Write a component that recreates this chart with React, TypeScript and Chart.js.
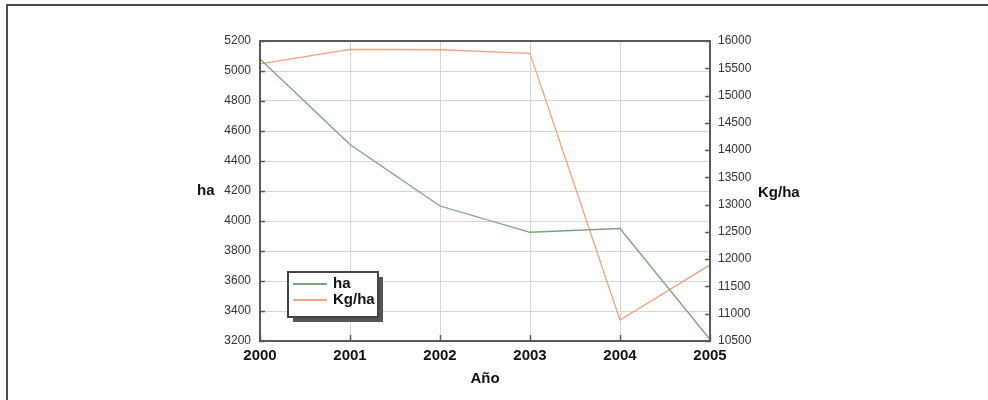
import React, { useEffect, useRef } from 'react';
import { Chart, registerables } from 'chart.js';

Chart.register(...registerables);

const years = ['2000', '2001', '2002', '2003', '2004', '2005'];
const haValues = [5080, 4510, 4100, 3925, 3950, 3210];
const kgHaValues = [15580, 15845, 15840, 15775, 10885, 11895];
const seriesLabels = ['ha', 'Kg/ha'];
const seriesColors = ['#7ba67b', '#f2a27e'];
const leftAxisTitle = 'ha';
const rightAxisTitle = 'Kg/ha';
const xAxisTitle = 'Año';
const leftMin = 3200, leftMax = 5200, leftStep = 200;
const rightMin = 10500, rightMax = 16000, rightStep = 500;

const FONT = 'Arial, "Liberation Sans", sans-serif';

const decorPlugin = {
  id: 'decor',
  beforeDraw(chart: any) {
    const ctx = chart.ctx;
    ctx.save();
    ctx.fillStyle = '#ffffff';
    ctx.fillRect(0, 0, chart.width, chart.height);
    ctx.fillStyle = '#4a4a4a';
    ctx.fillRect(6, 4, chart.width - 6, 2);
    ctx.fillRect(6, 4, 2, chart.height - 4);
    ctx.restore();
  },
  afterDraw(chart: any) {
    const ctx = chart.ctx;
    const a = chart.chartArea;
    const xs = chart.scales.x;
    const yl = chart.scales.y;
    const yr = chart.scales.y1;
    ctx.save();
    // frame
    ctx.strokeStyle = '#5a5a5a';
    ctx.lineWidth = 2;
    ctx.strokeRect(a.left, a.top, a.right - a.left, a.bottom - a.top);
    // inward tick marks
    ctx.lineWidth = 1.5;
    yl.ticks.forEach((t: any) => {
      const y = Math.round(yl.getPixelForValue(t.value)) + 0.5;
      ctx.beginPath(); ctx.moveTo(a.left, y); ctx.lineTo(a.left + 5, y); ctx.stroke();
    });
    yr.ticks.forEach((t: any) => {
      const y = Math.round(yr.getPixelForValue(t.value)) + 0.5;
      ctx.beginPath(); ctx.moveTo(a.right, y); ctx.lineTo(a.right - 5, y); ctx.stroke();
    });
    xs.ticks.forEach((_t: any, i: number) => {
      const x = Math.round(xs.getPixelForTick(i)) + 0.5;
      ctx.beginPath(); ctx.moveTo(x, a.bottom); ctx.lineTo(x, a.bottom - 6); ctx.stroke();
    });
    // axis titles
    ctx.fillStyle = '#111';
    ctx.font = 'bold 15px ' + FONT;
    ctx.textBaseline = 'middle';
    ctx.textAlign = 'left';
    ctx.fillText(leftAxisTitle, 197, 191);
    ctx.fillText(rightAxisTitle, 758, 193);
    ctx.textAlign = 'center';
    ctx.fillText(xAxisTitle, (a.left + a.right) / 2, 379);
    // legend
    const bx = 288, by = 272, bw = 90, bh = 45;
    ctx.fillStyle = '#555';
    ctx.fillRect(bx + 5, by + 5, bw, bh);
    ctx.fillStyle = '#fff';
    ctx.fillRect(bx, by, bw, bh);
    ctx.strokeStyle = '#444';
    ctx.lineWidth = 2;
    ctx.strokeRect(bx, by, bw, bh);
    chart.data.datasets.forEach((ds: any, i: number) => {
      const ly = by + 12 + i * 16;
      ctx.strokeStyle = ds.borderColor;
      ctx.lineWidth = 2;
      ctx.beginPath(); ctx.moveTo(bx + 5, ly); ctx.lineTo(bx + 39, ly); ctx.stroke();
      ctx.fillStyle = '#111';
      ctx.textAlign = 'left';
      ctx.font = 'bold 15px ' + FONT;
      ctx.fillText(ds.label, bx + 45, ly);
    });
    ctx.restore();
  },
};

export default function App() {
  const canvasRef = useRef<HTMLCanvasElement | null>(null);

  useEffect(() => {
    document.body.style.margin = '0';
    const canvas = canvasRef.current;
    if (!canvas) return;
    const plain = (v: any) => String(v);
    const chart = new Chart(canvas, {
      type: 'line',
      data: {
        labels: years,
        datasets: [
          {
            label: seriesLabels[0],
            data: haValues,
            borderColor: seriesColors[0],
            backgroundColor: seriesColors[0],
            borderWidth: 1.3,
            pointRadius: 0,
            tension: 0,
            yAxisID: 'y',
          },
          {
            label: seriesLabels[1],
            data: kgHaValues,
            borderColor: seriesColors[1],
            backgroundColor: seriesColors[1],
            borderWidth: 1.3,
            pointRadius: 0,
            tension: 0,
            yAxisID: 'y1',
          },
        ],
      },
      options: {
        responsive: false,
        animation: false,
        devicePixelRatio: 1,
        layout: { padding: { top: 41, left: 0, right: 0, bottom: 0 } },
        plugins: {
          legend: { display: false },
          tooltip: { enabled: false },
          title: { display: false },
        },
        scales: {
          x: {
            type: 'category',
            offset: false,
            grid: { color: '#d6d6d6', drawTicks: false, lineWidth: 1 },
            border: { display: false },
            ticks: {
              color: '#111',
              font: { family: FONT, size: 15, weight: 'bold' },
              padding: 6,
              maxRotation: 0,
              autoSkip: false,
            },
            afterFit: (s: any) => { s.height = 59; },
          },
          y: {
            type: 'linear',
            position: 'left',
            min: leftMin,
            max: leftMax,
            grid: { color: '#d6d6d6', drawTicks: false, lineWidth: 1 },
            border: { display: false },
            ticks: {
              stepSize: leftStep,
              color: '#333',
              font: { family: FONT, size: 12 },
              padding: 9,
              callback: plain,
            },
            afterFit: (s: any) => { s.width = 260; },
          },
          y1: {
            type: 'linear',
            position: 'right',
            min: rightMin,
            max: rightMax,
            grid: { drawOnChartArea: false, drawTicks: false },
            border: { display: false },
            ticks: {
              stepSize: rightStep,
              color: '#333',
              font: { family: FONT, size: 12 },
              padding: 8,
              callback: plain,
            },
            afterFit: (s: any) => { s.width = 278; },
          },
        },
      },
      plugins: [decorPlugin],
    } as any);
    return () => chart.destroy();
  }, []);

  return (
    <div style={{ width: 988, height: 400, position: 'relative' }}>
      <canvas ref={canvasRef} width={988} height={400} style={{ display: 'block', width: 988, height: 400 }} />
    </div>
  );
}
